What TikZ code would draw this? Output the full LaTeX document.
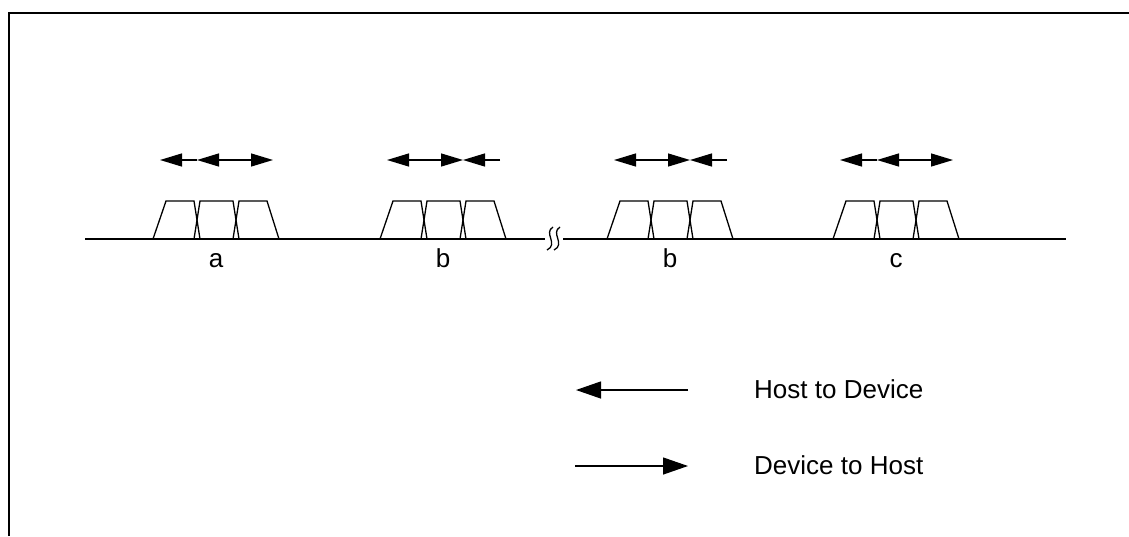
\documentclass[tikz,border=0pt]{standalone}
\usepackage{fontspec}
\setmainfont{Liberation Sans}
\usetikzlibrary{arrows.meta}

\begin{document}
\begin{tikzpicture}[
    x=1pt, y=-1pt,
    line/.style   = {line width=1.3pt},
    frame/.style  = {line width=1.7pt},
    dir/.style    = {line width=1.3pt, -{Triangle[length=22pt, width=13pt]}},
    key/.style    = {line width=1.3pt, -{Triangle[length=25pt, width=17pt]}},
    lbl/.style    = {font=\fontsize{26}{30}\selectfont, inner sep=0pt, anchor=base},
    txt/.style    = {font=\fontsize{26}{30}\selectfont, inner sep=0pt, anchor=base west}
]
\useasboundingbox (0,0) rectangle (1129,536);

% Outer frame (runs off the right and bottom edges)
\draw[frame] (9,536) -- (9,13) -- (1129,13);

% Bus line with break
\coordinate (busL0) at (85,239);
\coordinate (busL1) at (545,239);
\coordinate (busR0) at (563,239);
\coordinate (busR1) at (1066,239);
\draw[line] (busL0) -- (busL1);
\draw[line] (busR0) -- (busR1);

% Break marks
\draw[line] (547,250) .. controls (559,244) and (543,233) .. (553,227);
\draw[line] (554,250) .. controls (566,244) and (550,233) .. (560,227);

% Packets: three cells each, with direction arrows above
\foreach \x/\name/\lab/\sa/\ea/\sb/\eb in
    {153/pa/a/2/1/2/3, 380/pb/b/1/2/3/2, 607/pc/b/1/2/3/2, 833/pd/c/2/1/2/3} {
  \begin{scope}[shift={(\x,0)}]
    \draw[line] (0,239) -- (13,201) -- (41,201) -- (47,239);
    \draw[line] (41,239) -- (47,201) -- (80,201) -- (86,239);
    \draw[line] (80,239) -- (86,201) -- (114,201) -- (126,239);
    \node[lbl] (\name) at (63,267) {\lab};
    \coordinate (\name-0) at (7,160);
    \coordinate (\name-1) at (44,160);
    \coordinate (\name-2) at (83,160);
    \coordinate (\name-3) at (120,160);
  \end{scope}
  \draw[dir] (\name-1) -- (\name-0);
  \draw[dir] (\name-\sa) -- (\name-\ea);
  \draw[dir] (\name-\sb) -- (\name-\eb);
}

% Legend
\node[txt] (hd) at (754,398) {Host to Device};
\node[txt] (dh) at (754,474) {Device to Host};
\coordinate (hd0) at (688,390);
\coordinate (hd1) at (576,390);
\coordinate (dh0) at (575,466);
\coordinate (dh1) at (688,466);
\draw[key] (hd0) -- (hd1);
\draw[key] (dh0) -- (dh1);

\end{tikzpicture}
\end{document}
